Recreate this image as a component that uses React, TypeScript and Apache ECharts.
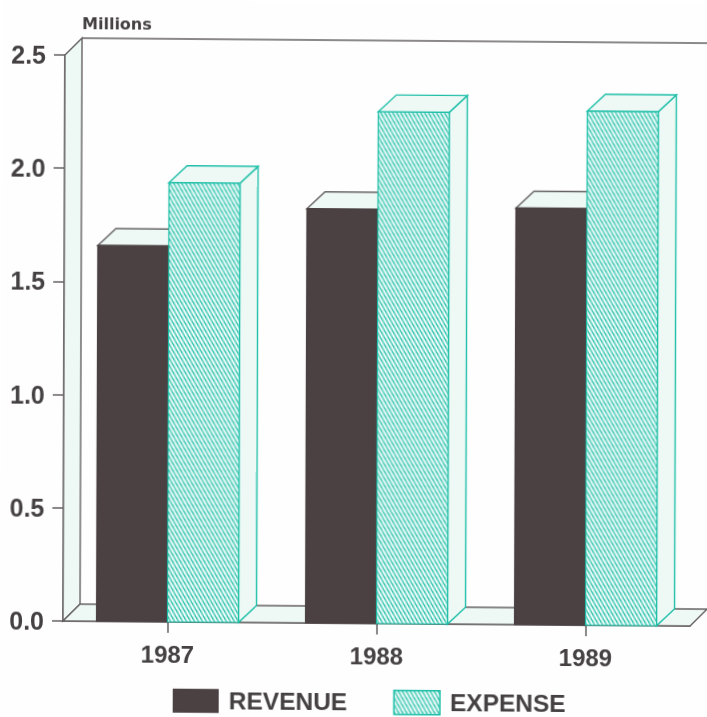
import React, { useEffect, useRef } from "react";
import * as echarts from "echarts";

const categories = ["1987", "1988", "1989"];
const revenue = [1.66, 1.83, 1.84];
const expense = [1.94, 2.26, 2.27];
const yTicks = { min: 0, max: 2.5, interval: 0.5 };

const INK = "#454142";
const DARK = "#4b4143";
const TEAL = "#1fbfa8";
const PALE = "#eef9f6";
const RULE = "#666263";
const DEPTH = 17;
const BAR_DEPTH = 18;
const BAR_WIDTH = 71;

// Diagonal hatch used for the expense bars and their legend swatch.
function makeHatch() {
  const w = 4;
  const h = 7;
  const canvas = document.createElement("canvas");
  canvas.width = w;
  canvas.height = h;
  const ctx = canvas.getContext("2d")!;
  ctx.fillStyle = "#ffffff";
  ctx.fillRect(0, 0, w, h);
  ctx.strokeStyle = "#2cc2ac";
  ctx.lineWidth = 1.5;
  for (let i = -1; i <= 1; i++) {
    ctx.beginPath();
    ctx.moveTo(i * w - w, -h);
    ctx.lineTo(i * w + 2 * w, 2 * h);
    ctx.stroke();
  }
  return { image: canvas, repeat: "repeat", imageWidth: w, imageHeight: h } as any;
}

// One extruded bar: side face, top face, then the front face.
function bar3d(api: any, offset: number, front: any, edge: string, frontEdge: string) {
  const top = api.coord([api.value(0), api.value(1)]);
  const base = api.coord([api.value(0), 0]);
  const x = top[0] + offset;
  const y = top[1];
  const w = BAR_WIDTH;
  const dx = BAR_DEPTH;
  const dy = DEPTH;
  const face = (points: number[][]) => ({
    type: "polygon",
    shape: { points },
    style: { fill: PALE, stroke: edge, lineWidth: 1.4 },
  });
  return {
    type: "group",
    children: [
      face([[x + w, y], [x + w + dx, y - dy], [x + w + dx, base[1] - dy], [x + w, base[1]]]),
      face([[x, y], [x + dx, y - dy], [x + w + dx, y - dy], [x + w, y]]),
      {
        type: "rect",
        shape: { x, y, width: w, height: base[1] - y },
        style: { fill: front, stroke: frontEdge, lineWidth: 1.2 },
      },
    ],
  };
}

// Side wall, floor and the back edge lines behind the bars.
function walls(params: any) {
  const { x, y, width, height } = params.coordSys;
  const d = DEPTH;
  const b = y + height;
  const stroke = { stroke: RULE, lineWidth: 1.4 };
  return {
    type: "group",
    children: [
      {
        type: "polygon",
        shape: { points: [[x, y], [x + d, y - d], [x + d, b - d], [x, b]] },
        style: { fill: PALE, ...stroke },
      },
      {
        type: "polygon",
        shape: { points: [[x, b], [x + d, b - d], [x + width + d, b - d], [x + width, b]] },
        style: { fill: PALE, ...stroke },
      },
      {
        type: "line",
        shape: { x1: x + d, y1: y - d, x2: x + width + d, y2: y - d },
        style: stroke,
      },
    ],
  };
}

export default function App() {
  const ref = useRef<HTMLDivElement>(null);

  useEffect(() => {
    const chart = echarts.init(ref.current!, null, { renderer: "svg" });
    const hatch = makeHatch();
    const font = "'Liberation Sans', sans-serif";
    const rows = (values: number[]) => values.map((v, i) => [categories[i], v]);

    chart.setOption({
      animation: false,
      backgroundColor: "#fefefe",
      grid: { left: 63, right: 17, top: 55, bottom: 96 },
      legend: {
        left: 173,
        top: 687,
        padding: 0,
        selectedMode: false,
        itemWidth: 46,
        itemHeight: 24,
        itemGap: 46,
        textStyle: { color: INK, fontFamily: font, fontSize: 24.5, fontWeight: "bold", padding: [0, 0, 0, 5] },
        data: [
          { name: "REVENUE", icon: "rect", itemStyle: { color: DARK } },
          { name: "EXPENSE", icon: "rect", itemStyle: { color: hatch, borderColor: TEAL, borderWidth: 1.5 } },
        ],
      },
      xAxis: {
        type: "category",
        data: categories,
        axisLine: { show: true, lineStyle: { color: RULE, width: 1.5 } },
        axisTick: { show: true, alignWithLabel: true, length: 11, lineStyle: { color: RULE, width: 1.5 } },
        axisLabel: { color: INK, fontFamily: font, fontSize: 24, fontWeight: "bold", margin: 20 },
      },
      yAxis: {
        type: "value",
        ...yTicks,
        name: "Millions",
        nameLocation: "end",
        nameGap: 24,
        nameTextStyle: {
          color: INK,
          fontFamily: "'DejaVu Sans', sans-serif",
          fontSize: 16,
          fontWeight: "bold",
          align: "left",
          padding: [0, 0, 0, 17],
        },
        splitLine: { show: false },
        axisLine: { show: true, lineStyle: { color: RULE, width: 1.5 } },
        axisTick: { show: true, length: 11, lineStyle: { color: RULE, width: 1.5 } },
        axisLabel: {
          color: INK,
          fontFamily: font,
          fontSize: 25,
          fontWeight: "bold",
          margin: 19,
          formatter: (v: number) => v.toFixed(1),
        },
      },
      series: [
        {
          type: "custom",
          name: "walls",
          silent: true,
          data: [[categories[0], 0]],
          encode: { x: 0, y: 1 },
          renderItem: walls,
        },
        {
          type: "custom",
          name: "REVENUE",
          silent: true,
          itemStyle: { color: DARK },
          data: rows(revenue),
          encode: { x: 0, y: 1 },
          renderItem: (_p: any, api: any) => bar3d(api, -BAR_WIDTH, DARK, RULE, DARK),
        },
        {
          type: "custom",
          name: "EXPENSE",
          silent: true,
          itemStyle: { color: hatch },
          data: rows(expense),
          encode: { x: 0, y: 1 },
          renderItem: (_p: any, api: any) => bar3d(api, 0, hatch, TEAL, TEAL),
        },
      ],
    });

    return () => chart.dispose();
  }, []);

  return (
    <div
      ref={ref}
      style={{
        position: "fixed",
        left: 0,
        top: 0,
        width: 707,
        height: 717,
        // The plot runs slightly askew across the page.
        transform: "matrix(1, 0.008, -0.0035, 1, 0, 0)",
        transformOrigin: "63px 621px",
      }}
    />
  );
}
